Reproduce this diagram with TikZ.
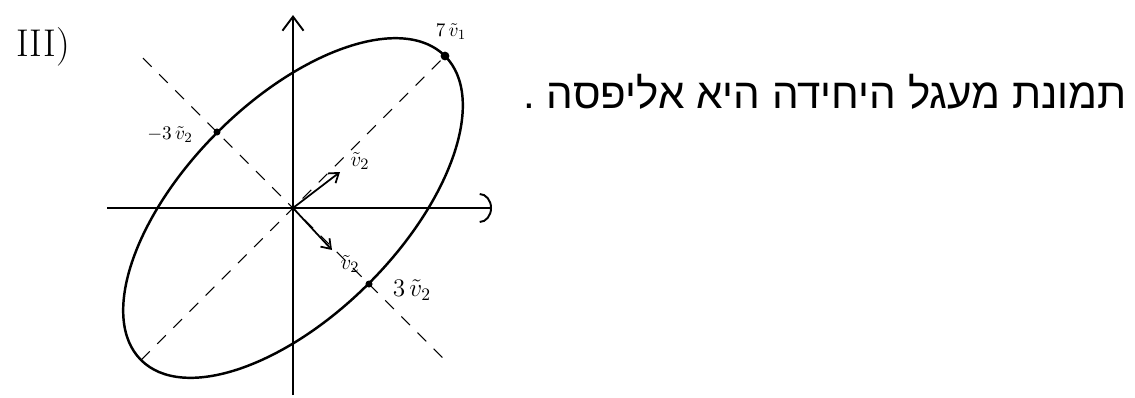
\documentclass[tikz,border=0pt]{standalone}
\usepackage{fontspec}
\newfontfamily\hebfont[Script=Hebrew]{Liberation Sans}
\TeXXeTstate=1
\usetikzlibrary{arrows.meta}
\begin{document}
\begin{tikzpicture}[x=0.02cm,y=-0.02cm,
  axis/.style={line width=1.1pt},
  curve/.style={line width=1.4pt},
  guide/.style={line width=0.6pt, dash pattern=on 7pt off 6pt},
  vec/.style={line width=1pt, -{Straight Barb[length=5pt,width=7pt]}},
  lbl/.style={inner sep=0pt, font=\fontsize{11}{13}\selectfont},
  pt/.style={circle, fill=black, inner sep=0pt, minimum size=5pt}]
\useasboundingbox (0,0) rectangle (1135,397);

% axes
\coordinate (O) at (293,208);
\coordinate (xl) at (107,208);
\coordinate (xr) at (492,208);
\coordinate (yb) at (293,395);
\coordinate (yt) at (293,15);
\draw[axis, -{Arc Barb[length=7pt,width=17pt]}] (xl) -- (xr);
\draw[axis, -{Straight Barb[length=8pt,width=12pt]}] (yb) -- (yt);

% ellipse
\draw[curve, rotate around={45:(O)}] (O) ellipse [x radius=4.3cm, y radius=2.14cm];

% principal axes (dashed)
\coordinate (A1) at (141,360);
\node[pt] (P1) at (445,56) {};
\coordinate (B1) at (143,58);
\coordinate (B2) at (445,360);
\draw[guide] (A1) -- (P1);
\draw[guide] (B1) -- (B2);

% marked points
\node[pt, minimum size=4pt] (M1) at (217,132) {};
\node[pt, minimum size=4pt] (M2) at (369,284) {};

% vectors
\coordinate (V1) at (340,172);
\coordinate (V2) at (332,250);
\draw[vec] (O) -- (V1);
\draw[vec] (O) -- (V2);

% labels
\node[lbl] (l1) at (451,32) {$7\,\tilde{v}_1$};
\node[lbl] (l2) at (170,135) {$-3\,\tilde{v}_2$};
\node[lbl, font=\fontsize{13}{15}\selectfont] (l3) at (360,161) {$\tilde{v}_2$};
\node[lbl, font=\fontsize{13}{15}\selectfont] (l4) at (350,264) {$\tilde{v}_2$};
\node[lbl, font=\fontsize{14}{16}\selectfont] (l5) at (412,290) {$3\,\tilde{v}_2$};
\node[inner sep=0pt, font=\fontsize{22}{26}\selectfont] (num) at (43,47) {III)};
\node[inner sep=0pt, font=\hebfont\fontsize{24}{28}\selectfont] (heb) at (825,92)
  {\beginR תמונת מעגל היחידה היא אליפסה .\endR};
\end{tikzpicture}
\end{document}
